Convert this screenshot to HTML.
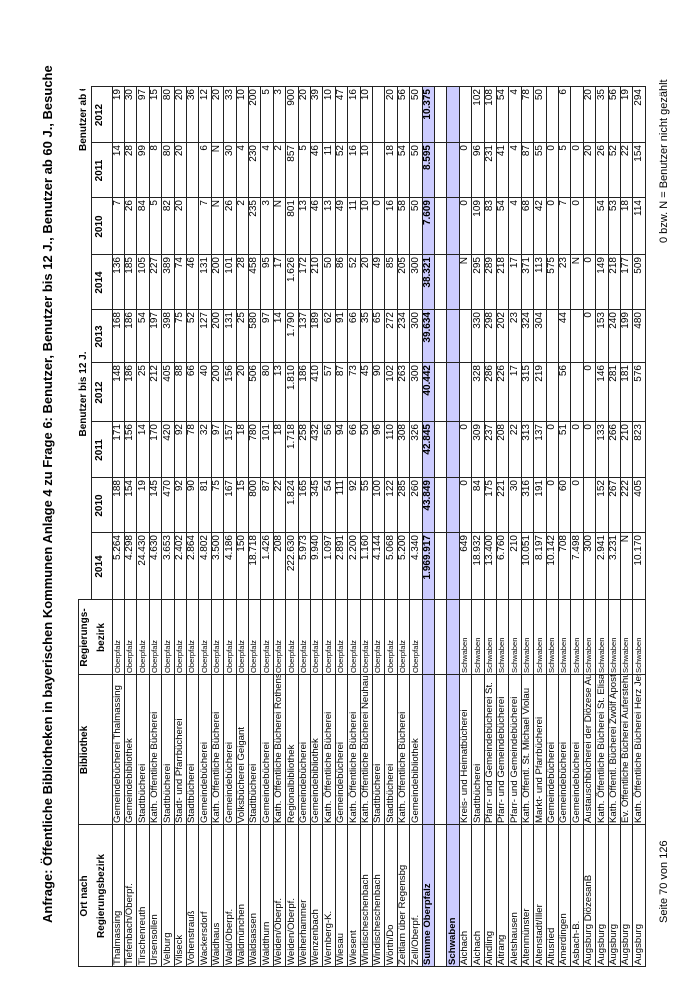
<!DOCTYPE html>
<html><head><meta charset="utf-8">
<style>
html,body{margin:0;padding:0;background:#fff;}
body{width:700px;height:990px;position:relative;overflow:hidden;font-family:"Liberation Sans",Arial,sans-serif;color:#000;}
#L{position:absolute;left:0;top:0;width:990px;height:700px;transform-origin:0 0;transform:translateY(990px) rotate(-90deg);}
.c{position:absolute;white-space:nowrap;overflow:hidden;box-sizing:border-box;}
.hl{position:absolute;background:#222;}
.t{font-size:10px;line-height:12.4px;}
.nm{font-size:9.6px;padding-left:2px;}
.rg{font-size:7.6px;padding-left:2px;}
.nu{font-size:10px;text-align:right;padding-right:2px;}
.b{font-weight:bold;}
.h{font-weight:bold;font-size:10px;text-align:center;}
</style></head>
<body>
<div id="L">
  <div class="c b" style="left:67px;top:40px;font-size:13px;line-height:16px;overflow:visible">Anfrage: Öffentliche Bibliotheken in bayerischen Kommunen Anlage 4 zu Frage 6: Benutzer, Benutzer bis 12 J., Benutzer ab 60 J., Besuche</div>
  <div id="tbl"></div>
  <div class="c" style="left:67px;top:657px;font-size:11px;line-height:14px;overflow:visible">Seite 70 von 126</div>
  <div class="c" style="left:747px;top:657px;font-size:11px;line-height:14px;overflow:visible">0 bzw. N = Benutzer nicht gezählt</div>
</div>
<script>
const colX=[23,165,315,390,457,512,568,627,680,735,792,847,903];
const yearLabels=["2014","2010","2011","2012","2013","2014","2010","2011","2012"];
const ortNames=["Thalmassing","Tiefenbach/Oberpf.","Tirschenreuth","Ursensollen","Velburg","Vilseck","Vohenstrauß","Wackersdorf","Waidhaus","Wald/Oberpf.","Waldmünchen","Waldsassen","Waldthurn","Weiden/Oberpf.","Weiden/Oberpf.","Weiherhammer","Wenzenbach","Wernberg-K.","Wiesau","Wiesent","Windischeschenbach","Windischeschenbach","Wörth/Do","Zeitlarn über Regensbg","Zell/Oberpf.","Summe Oberpfalz","","Schwaben","Aichach","Aichach","Aindling","Aitrang","Aletshausen","Altenmünster","Altenstadt/Iller","Altusried","Amerdingen","Asbach-B.","Augsburg DiözesanB","Augsburg","Augsburg","Augsburg","Augsburg"];
const bibNames=["Gemeindebücherei Thalmassing","Gemeindebibliothek","Stadtbücherei","Kath. Öffentliche Bücherei","Stadtbücherei","Stadt- und Pfarrbücherei","Stadtbücherei","Gemeindebücherei","Kath. Öffentliche Bücherei","Gemeindebücherei","Volksbücherei Geigant","Stadtbücherei","Gemeindebücherei","Kath. Öffentliche Bücherei Rothenstadt","Regionalbibliothek","Gemeindebücherei","Gemeindebibliothek","Kath. Öffentliche Bücherei","Gemeindebücherei","Kath. Öffentliche Bücherei","Kath. Öffentliche Bücherei Neuhaus","Stadtbücherei","Stadtbücherei","Kath. Öffentliche Bücherei","Gemeindebibliothek","","","","Kreis- und Heimatbücherei","Stadtbücherei","Pfarr- und Gemeindebücherei St.","Pfarr- und Gemeindebücherei","Pfarr- und Gemeindebücherei","Kath. Öffentl. St. Michael Violau","Markt- und Pfarrbücherei","Gemeindebücherei","Gemeindebücherei","Gemeindebücherei","Austauschbücherei der Diözese Augsburg","Kath. Öffentliche Bücherei St. Elisabeth","Kath. Öffentl. Bücherei Zwölf Apostel","Ev. Öffentliche Bücherei Auferstehung","Kath. Öffentliche Bücherei Herz Jesu"];
const regNames=["Oberpfalz","Oberpfalz","Oberpfalz","Oberpfalz","Oberpfalz","Oberpfalz","Oberpfalz","Oberpfalz","Oberpfalz","Oberpfalz","Oberpfalz","Oberpfalz","Oberpfalz","Oberpfalz","Oberpfalz","Oberpfalz","Oberpfalz","Oberpfalz","Oberpfalz","Oberpfalz","Oberpfalz","Oberpfalz","Oberpfalz","Oberpfalz","Oberpfalz","","","","Schwaben","Schwaben","Schwaben","Schwaben","Schwaben","Schwaben","Schwaben","Schwaben","Schwaben","Schwaben","Schwaben","Schwaben","Schwaben","Schwaben","Schwaben"];
const benutzer2014=["5.264","4.298","24.430","4.630","3.653","2.402","2.864","4.802","3.500","4.186","150","18.718","1.426","208","222.630","5.973","9.940","1.097","2.891","2.200","1.160","4.144","5.068","5.200","4.340","1.969.917","","","649","18.932","13.400","6.760","210","10.051","8.197","10.142","708","7.498","300","2.941","3.231","N","10.170"];
const bis12=[["188","171","148","168","136"],["154","156","186","186","185"],["19","14","25","54","105"],["145","170","212","197","227"],["470","420","405","398","389"],["92","92","88","75","74"],["90","78","66","52","46"],["81","32","40","127","131"],["75","97","200","200","200"],["167","157","156","131","101"],["15","18","20","25","28"],["800","780","506","580","458"],["87","101","80","97","95"],["22","18","13","14","17"],["1.824","1.718","1.810","1.790","1.626"],["165","258","186","137","172"],["345","432","410","189","210"],["54","56","57","62","50"],["111","94","87","91","86"],["92","66","73","66","52"],["55","50","45","35","20"],["100","96","90","65","49"],["122","110","102","272","85"],["285","308","263","234","205"],["260","326","300","300","300"],["43.849","42.845","40.442","39.634","38.321"],["","","","",""],["","","","",""],["0","0","","","N"],["84","309","328","330","295"],["175","237","286","298","289"],["221","208","226","202","218"],["30","22","17","23","17"],["316","313","315","324","371"],["191","137","219","304","113"],["0","0","","","575"],["60","51","56","44","23"],["0","0","","","N"],["","0","0","0","0"],["152","133","146","153","149"],["267","266","281","240","218"],["222","210","181","199","177"],["405","823","576","480","509"]];
const ab60=[["7","14","19"],["26","28","30"],["84","99","97"],["5","8","15"],["82","80","80"],["20","20","20"],["","","36"],["7","6","12"],["N","N","20"],["26","30","33"],["2","4","10"],["235","230","200"],["3","4","5"],["N","2","3"],["801","857","900"],["13","5","20"],["46","46","39"],["13","11","10"],["49","52","47"],["11","16","16"],["10","10","10"],["0","",""],["16","18","20"],["58","54","56"],["50","50","50"],["7.609","8.595","10.375"],["","",""],["","",""],["0","0",""],["109","96","102"],["83","231","108"],["54","41","54"],["4","4","4"],["68","87","78"],["42","55","50"],["0","0",""],["7","5","6"],["0","0",""],["","20","20"],["54","26","35"],["53","52","56"],["18","22","19"],["114","154","294"]];

const T=document.getElementById('tbl');
const Y0=112, RH=12.4, N=ortNames.length, YEND=Y0+N*RH;
const SUM=25, SCHW=27;
function cell(x,y,w,h,txt,cls,name){
  const d=document.createElement('div');
  d.className='c t '+cls;
  d.style.left=x+'px';d.style.top=y+'px';d.style.width=w+'px';d.style.height=h+'px';
  d.textContent=txt;
  
  
  T.appendChild(d);return d;
}
function line(x,y,w,h){
  const d=document.createElement('div');
  d.className='hl';
  d.style.left=x+'px';d.style.top=y+'px';d.style.width=w+'px';d.style.height=h+'px';
  
  
  T.appendChild(d);
}
[SUM,SCHW].forEach(r=>{
  const d=document.createElement('div');
  d.style.cssText='position:absolute;background:#ccccff;left:'+colX[0]+'px;top:'+(Y0+r*RH)+'px;width:'+(colX[12]-colX[0])+'px;height:'+RH+'px;';
  
  
  T.appendChild(d);
});
cell(colX[0],79,colX[1]-colX[0],15,'Ort nach','h','header-ort');
cell(colX[0],96,colX[1]-colX[0],15,'Regierungsbezirk','h','header-regierungsbezirk');
cell(colX[1],79,colX[2]-colX[1],15,'Bibliothek','h','header-bibliothek');
cell(colX[2],79,colX[3]-colX[2],15,'Regierungs-','h','header-regierungs');
cell(colX[2],96,colX[3]-colX[2],15,'bezirk','h','header-bezirk');
const g1=cell(colX[4],78,colX[9]-colX[4],12,'Benutzer bis 12 J.','h','group-benutzer-bis-12');
const g2=cell(colX[9],78,colX[12]-colX[9]-2,12,'Benutzer ab 60 J.','h','group-benutzer-ab-60');
g2.style.textAlign='left';g2.style.paddingLeft='104px';
for(let i=0;i<9;i++){cell(colX[i+3],94,colX[i+4]-colX[i+3],17,yearLabels[i],'h','header-year');}
for(let r=0;r<N;r++){
  const y=Y0+r*RH, bold=(r===SUM||r===SCHW)?' b':'';
  cell(colX[0],y,colX[1]-colX[0],RH,ortNames[r],'nm'+bold,'ort-cell');
  cell(colX[1],y,colX[2]-colX[1],RH,bibNames[r],'nm','bibliothek-cell');
  cell(colX[2],y,colX[3]-colX[2],RH,regNames[r],'rg','regbez-cell');
  cell(colX[3],y,colX[4]-colX[3],RH,benutzer2014[r],'nu'+bold,'benutzer-2014-cell');
  for(let k=0;k<5;k++) cell(colX[4+k],y,colX[5+k]-colX[4+k],RH,bis12[r][k],'nu'+bold,'bis12-cell');
  for(let k=0;k<3;k++) cell(colX[9+k],y,colX[10+k]-colX[9+k],RH,ab60[r][k],'nu'+bold,'ab60-cell');
}
line(colX[0],77.5,colX[3]-colX[0],1.5);
line(colX[3],91,colX[12]-colX[3],1.2);
line(colX[0],Y0-0.5,colX[12]-colX[0],1.2);
for(let r=1;r<N;r++) line(colX[0],Y0+r*RH-0.5,colX[12]-colX[0],1);
line(colX[0],YEND-0.5,colX[12]-colX[0],1.5);
for(let i=0;i<=12;i++){
  const top=(i<=3)?77.5:91;
  line(colX[i]-0.5,top,(i===0)?1.5:1,YEND-top+1);
}
</script>
</body></html>
